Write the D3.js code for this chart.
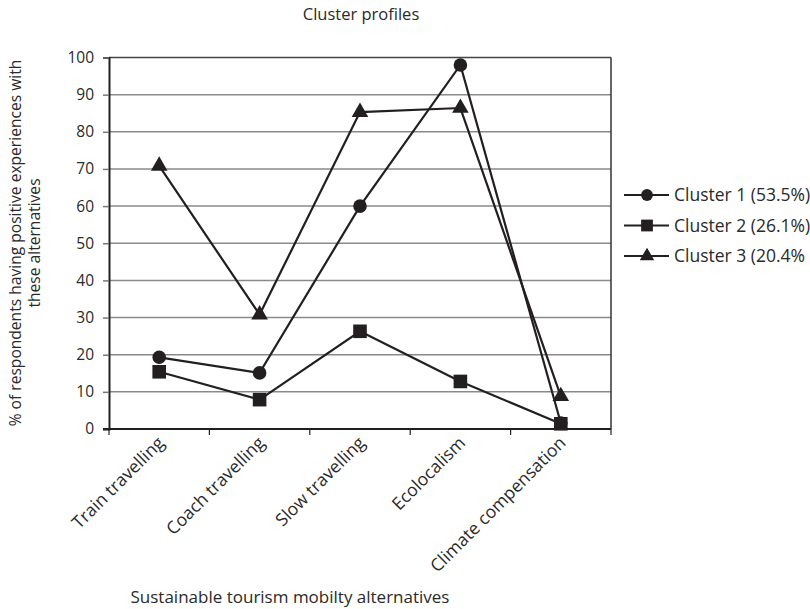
<!DOCTYPE html>
<html>
<head>
<meta charset="utf-8">
<script src="https://cdn.jsdelivr.net/npm/d3@7"></script>
<style>
  body { margin: 0; background: #fff; }
  svg { display: block; font-family: "Open Sans", "Noto Sans", sans-serif; }
</style>
</head>
<body>
<svg id="chart" width="810" height="609"></svg>
<script>
const categories = ["Train travelling", "Coach travelling", "Slow travelling", "Ecolocalism", "Climate compensation"];
const cluster1 = [19.3, 15.1, 60.0, 98.0, 1.6];
const cluster2 = [15.4, 7.9, 26.3, 12.8, 1.4];
const cluster3 = [70.8, 30.8, 85.3, 86.4, 8.8];
const seriesNames = ["Cluster 1 (53.5%)", "Cluster 2 (26.1%)", "Cluster 3 (20.4%"];
const yTicks = [0, 10, 20, 30, 40, 50, 60, 70, 80, 90, 100];

(function () {
const series = [
  { name: seriesNames[0], values: cluster1, shape: d3.symbolCircle, size: 145 },
  { name: seriesNames[1], values: cluster2, shape: d3.symbolSquare, size: 185 },
  { name: seriesNames[2], values: cluster3, shape: d3.symbolTriangle, size: 120 }
];

const svg = d3.select("#chart");
const pL = 109, pR = 611, pT = 57.5, pB = 429;
const ink = "#231f20";
const txt = "#2a2a2a";

const x = d3.scaleBand().domain(categories).range([pL, pR]);
const y = d3.scaleLinear().domain([0, 100]).range([pB, pT]);

// gridlines
svg.append("g").selectAll("line").data(yTicks.filter(d => d > 0)).join("line")
  .attr("x1", pL).attr("x2", pR)
  .attr("y1", d => y(d)).attr("y2", d => y(d))
  .attr("stroke", d => d === 100 ? "#444" : "#8a8a8a").attr("stroke-width", 1.5);

// right border
svg.append("line").attr("x1", pR).attr("x2", pR).attr("y1", pT).attr("y2", pB)
  .attr("stroke", "#333").attr("stroke-width", 1.5);

// y axis
const yAxis = svg.append("g").attr("transform", `translate(${pL},0)`)
  .call(d3.axisLeft(y).tickValues(yTicks).tickSize(6).tickPadding(9));
yAxis.select(".domain").attr("stroke", ink).attr("stroke-width", 2);
yAxis.selectAll(".tick line").attr("stroke", "#777").attr("stroke-width", 1.5);
yAxis.selectAll(".tick text").attr("font-size", 15.5).attr("fill", txt)
  .attr("font-family", "'Open Sans', sans-serif");

// x axis line and ticks at band edges
svg.append("line").attr("x1", pL - 6).attr("x2", pR).attr("y1", pB).attr("y2", pB)
  .attr("stroke", ink).attr("stroke-width", 2);
const edges = categories.map(c => x(c)).concat([pR]);
svg.append("g").selectAll("line").data(edges).join("line")
  .attr("x1", d => d).attr("x2", d => d).attr("y1", pB).attr("y2", pB + 6)
  .attr("stroke", ink).attr("stroke-width", 1.2);

// x labels
svg.append("g").selectAll("text").data(categories).join("text")
  .attr("transform", d => `translate(${x(d) + x.bandwidth() / 2 + 6},${pB + 15}) rotate(-45)`)
  .attr("text-anchor", "end")
  .attr("font-size", 17.5).attr("fill", txt)
  .text(d => d);

// lines & markers
const line = d3.line().x((d, i) => x(categories[i]) + x.bandwidth() / 2).y(d => y(d));
series.forEach(s => {
  svg.append("path").datum(s.values).attr("d", line)
    .attr("fill", "none").attr("stroke", ink).attr("stroke-width", 2.2);
});
series.forEach(s => {
  svg.append("g").selectAll("path").data(s.values).join("path")
    .attr("d", d3.symbol().type(s.shape).size(s.size))
    .attr("transform", (d, i) => `translate(${x(categories[i]) + x.bandwidth() / 2},${y(d)})`)
    .attr("fill", ink);
});

// legend
const lg = svg.append("g");
series.forEach((s, i) => {
  const ly = 195 + i * 30.5;
  lg.append("line").attr("x1", 624).attr("x2", 669).attr("y1", ly).attr("y2", ly)
    .attr("stroke", ink).attr("stroke-width", 2.2);
  lg.append("path").attr("d", d3.symbol().type(s.shape).size(s.size * 0.75))
    .attr("transform", `translate(647,${ly})`).attr("fill", ink);
  lg.append("text").attr("x", 674).attr("y", ly + 6)
    .attr("font-size", 17.5).attr("fill", txt).text(s.name);
});

// title
svg.append("text").attr("x", 361).attr("y", 20).attr("text-anchor", "middle")
  .attr("font-size", 16.5).attr("fill", txt).text("Cluster profiles");

// y title
const yt = svg.append("text").attr("transform", "translate(0,243) rotate(-90)")
  .attr("text-anchor", "middle").attr("font-size", 15.6).attr("fill", txt);
yt.append("tspan").attr("x", 0).attr("y", 21).text("% of respondents having positive experiences with");
yt.append("tspan").attr("x", 0).attr("y", 40).text("these alternatives");

// x title
svg.append("text").attr("x", 290).attr("y", 603).attr("text-anchor", "middle")
  .attr("font-size", 17).attr("fill", txt).text("Sustainable tourism mobilty alternatives");
})();
</script>
</body>
</html>
